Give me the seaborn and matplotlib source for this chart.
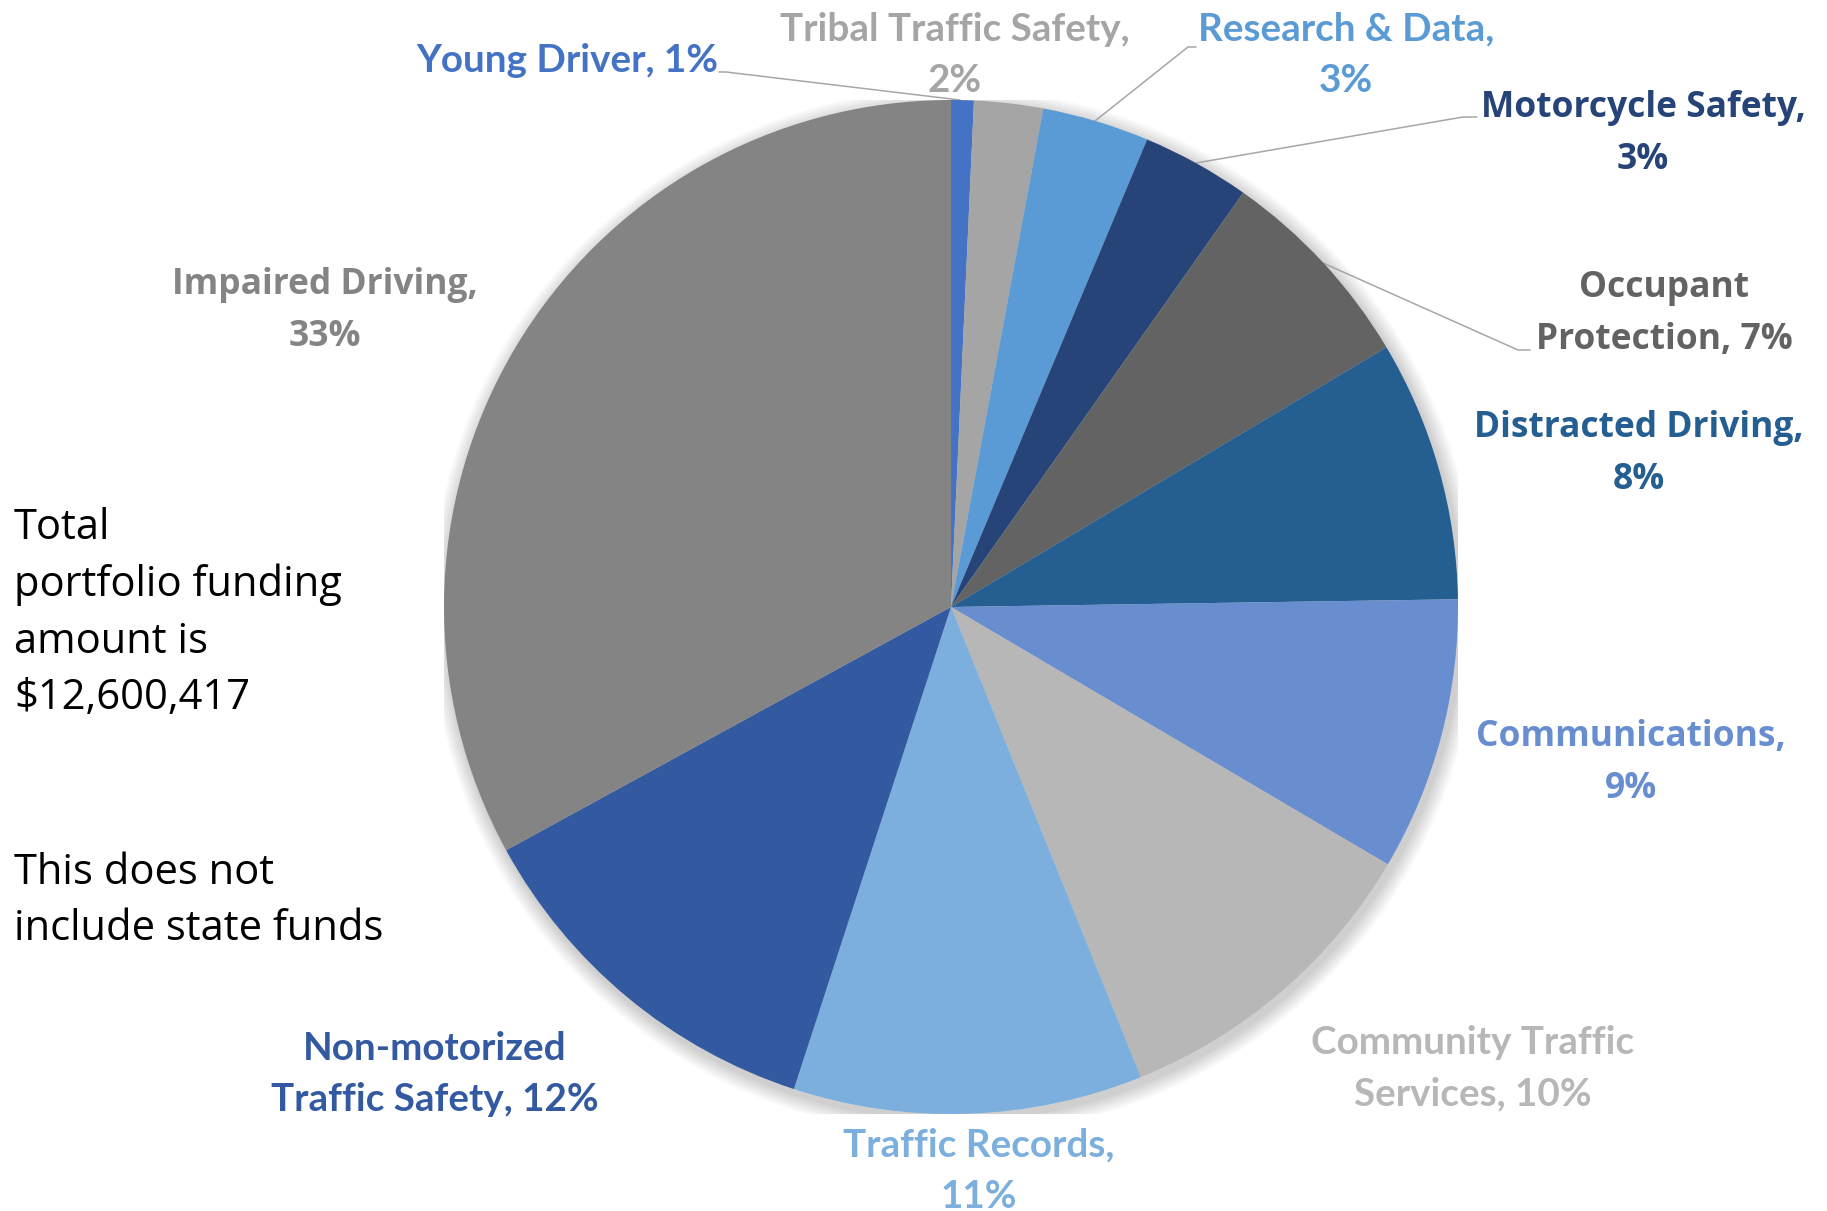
import matplotlib
matplotlib.use('Agg')
import matplotlib.pyplot as plt
from matplotlib import font_manager
from matplotlib.patches import Circle
import seaborn as sns

# data, clockwise from 12 o'clock
programs = ['Young Driver', 'Tribal Traffic Safety', 'Research & Data', 'Motorcycle Safety',
            'Occupant Protection', 'Distracted Driving', 'Communications',
            'Community Traffic Services', 'Traffic Records', 'Non-motorized Traffic Safety',
            'Impaired Driving']
shares = [0.72, 2.19, 3.40, 3.45, 6.65, 8.30, 8.70, 10.40, 11.10, 12.00, 32.90]
pct_labels = ['1%', '2%', '3%', '3%', '7%', '8%', '9%', '10%', '11%', '12%', '33%']
# where the label text wraps (the first line ends after this many words)
wrap_words = [None, 3, 3, 2, 1, 2, 1, 2, 2, 1, 2]
colors = ['#4472C4', '#A5A5A5', '#5B9BD5', '#264478', '#636363', '#255E91',
          '#698ED0', '#B7B7B7', '#7CAFDD', '#335AA1', '#848484']
note_1 = 'Total\nportfolio funding\namount is\n$12,600,417'
note_2 = 'This does not\ninclude state funds'

sns.set_theme(style='white')

installed = {f.name for f in font_manager.fontManager.ttflist}
narrow = 'Liberation Sans Narrow' if 'Liberation Sans Narrow' in installed else 'Lato'
wide = 'Open Sans'
plt.rcParams['font.family'] = [wide, 'DejaVu Sans']

W, H = 1827, 1211
CX, CY, R = 951, 607, 507

fig = plt.figure(figsize=(W / 100, H / 100), dpi=100)
ax = fig.add_axes([(CX - R) / W, 1 - (CY + R) / H, 2 * R / W, 2 * R / H])

# soft shadow round the pie
for k in range(8):
    ax.add_patch(Circle((0.006, -0.010), 1.0 + 0.004 * (k + 1), color='black',
                        alpha=0.022, lw=0, zorder=0))

ax.pie(shares, colors=colors, startangle=90, counterclock=False, radius=1.0,
       wedgeprops=dict(linewidth=0, zorder=2), normalize=True)
ax.set_xlim(-1, 1)
ax.set_ylim(-1, 1)
ax.set_aspect('equal')
ax.axis('off')


def d(px, py):
    return (px - CX) / R, (CY - py) / R


def label_text(name, pct, n):
    words = name.split()
    if n is None:
        return f'{name}, {pct}'
    first = ' '.join(words[:n])
    rest = ' '.join(words[n:])
    if rest:
        return f'{first}\n{rest}, {pct}'
    return f'{first},\n{pct}'


# label centres in pixels (layout only)
label_pos = [(567, 60), (955, 55), (1346, 55), (1643, 134), (1664, 314), (1639, 454),
             (1631, 763), (1473, 1068), (979, 1171), (435, 1074), (325, 311)]
label_font = [narrow, narrow, narrow, wide, wide, wide, wide, narrow, narrow, narrow, wide]
label_size = [27.8, 27.8, 27.8, 25.5, 25.5, 25.5, 25.5, 27.8, 27.8, 27.8, 25.5]

for i, name in enumerate(programs):
    x, y = d(*label_pos[i])
    ax.text(x, y, label_text(name, pct_labels[i], wrap_words[i]), color=colors[i],
            fontsize=label_size[i], fontweight='bold', family=[label_font[i], 'DejaVu Sans'],
            ha='center', va='center', linespacing=1.58, clip_on=False, zorder=5)

# leader lines
leaders = [
    [(719, 72), (726, 72), (960, 100)],
    [(1196, 47), (1188, 47), (1095, 121)],
    [(1477, 117), (1463, 117), (1196, 163)],
    [(1530, 350), (1518, 350), (1323, 263)],
]
for pts in leaders:
    xs, ys = zip(*[d(px, py) for px, py in pts])
    ax.plot(xs, ys, color='#A6A6A6', lw=1.1, clip_on=False, zorder=1)

fig.text(14 / W, 1 - 613 / H, note_1, ha='left', va='center', fontsize=30,
         color='black', linespacing=1.45)
fig.text(14 / W, 1 - 901 / H, note_2, ha='left', va='center', fontsize=30,
         color='black', linespacing=1.45)

fig.savefig('out.png', dpi=100, facecolor='white')
